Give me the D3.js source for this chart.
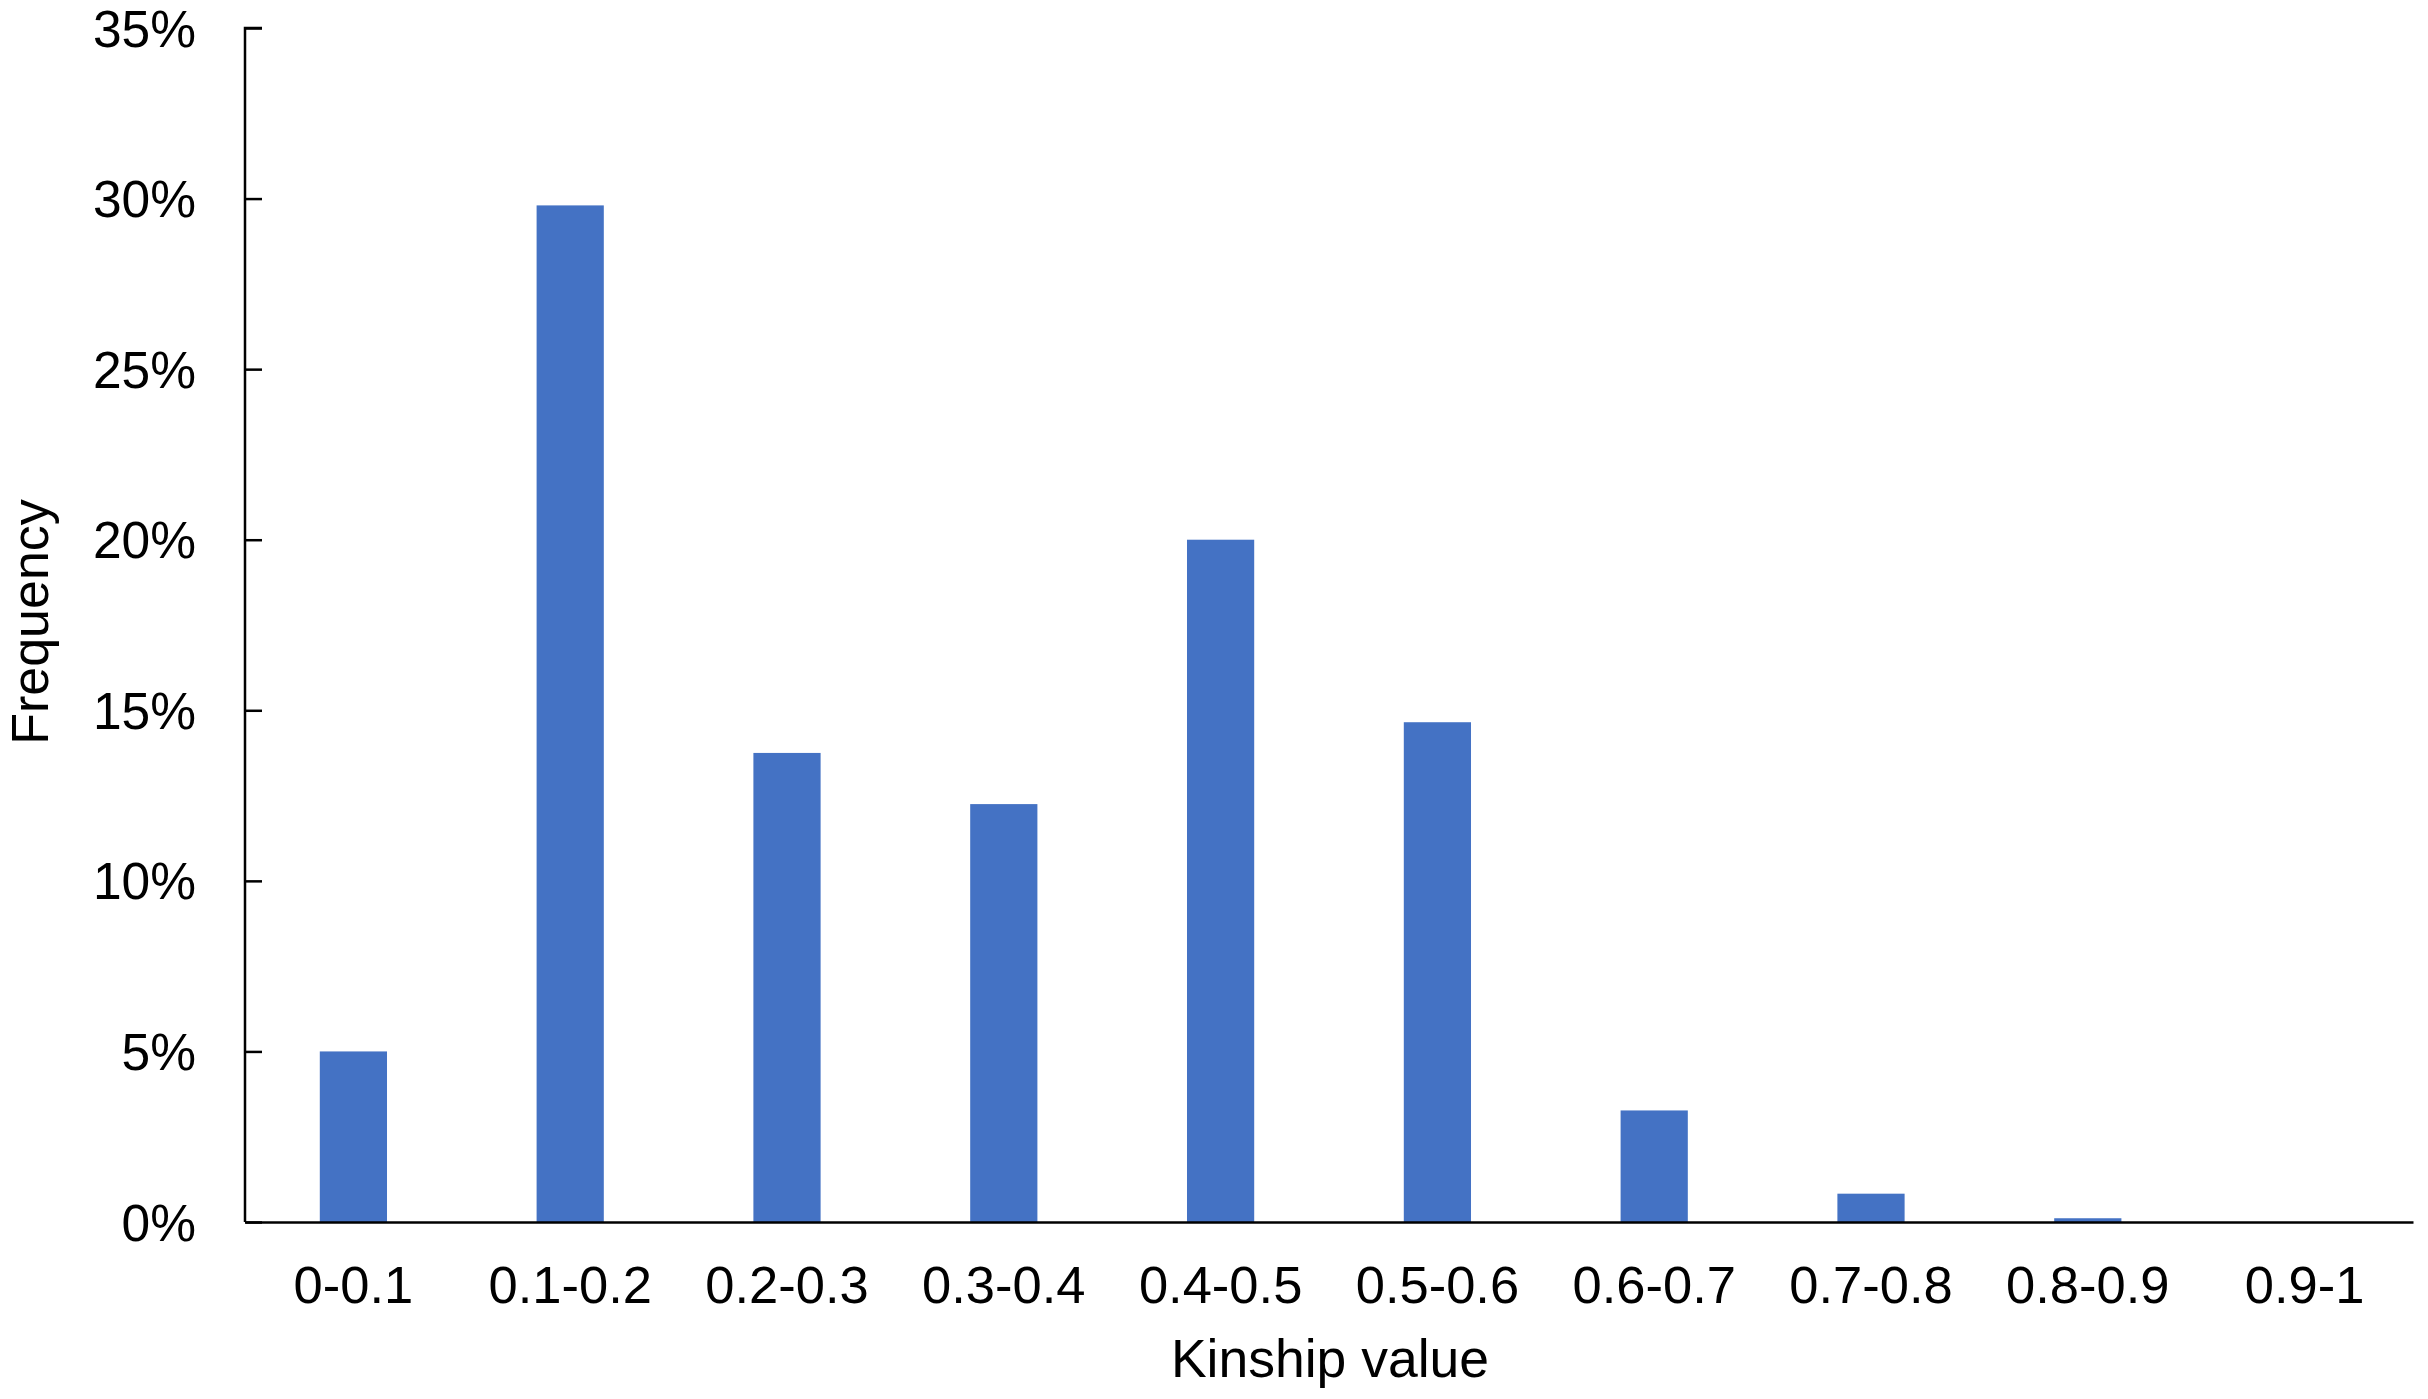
<!DOCTYPE html>
<html>
<head>
<meta charset="utf-8">
<script src="https://cdn.jsdelivr.net/npm/d3@7"></script>
<style>
  html, body { margin: 0; padding: 0; background: #fff; }
  svg { display: block; }
  text { font-family: "Liberation Sans", Arial, sans-serif; fill: #000; }
</style>
</head>
<body>
<svg id="chart" width="2428" height="1399"></svg>
<script>
const categories = ["0-0.1", "0.1-0.2", "0.2-0.3", "0.3-0.4", "0.4-0.5", "0.5-0.6", "0.6-0.7", "0.7-0.8", "0.8-0.9", "0.9-1"];
const frequency = [0.050, 0.298, 0.1375, 0.1225, 0.200, 0.1465, 0.0327, 0.0083, 0.0011, 0];
const yTicks = [0, 0.05, 0.10, 0.15, 0.20, 0.25, 0.30, 0.35];
const xTitle = "Kinship value";
const yTitle = "Frequency";

const W = 2428, H = 1399;
const margin = { left: 245, right: 15, top: 28, bottom: 177 };
const svg = d3.select("#chart");
const innerW = W - margin.left - margin.right;
const innerH = H - margin.top - margin.bottom;
const g = svg.append("g").attr("transform", `translate(${margin.left},${margin.top})`);

const x = d3.scaleBand().domain(categories).range([0, innerW]).paddingInner(0.69).paddingOuter(0.345);
const y = d3.scaleLinear().domain([0, 0.35]).range([innerH, 0]);

// bars
g.selectAll("rect.bar").data(categories).join("rect")
  .attr("class", "bar")
  .attr("x", d => x(d))
  .attr("width", x.bandwidth())
  .attr("y", (d, i) => y(frequency[i]))
  .attr("height", (d, i) => y(0) - y(frequency[i]))
  .attr("fill", "#4472C4");

// y axis (ticks pointing inward)
const yAxis = g.append("g")
  .call(d3.axisRight(y).tickValues(yTicks).tickSize(17).tickFormat(d3.format(".0%")));
yAxis.select(".domain").attr("d", `M0,${innerH}V0H17`).attr("stroke", "#000").attr("stroke-width", 2.5).attr("fill", "none");
yAxis.selectAll(".tick line").attr("stroke", "#000").attr("stroke-width", 2.5);
yAxis.selectAll(".tick text")
  .attr("x", -49).attr("text-anchor", "end").attr("dy", "0.35em")
  .style("font-size", "51.5px");

// x axis
const xAxis = g.append("g").attr("transform", `translate(0,${innerH})`)
  .call(d3.axisBottom(x).tickSize(0).tickPadding(0));
xAxis.select(".domain").attr("stroke", "#000").attr("stroke-width", 2.5);
xAxis.selectAll(".tick text").attr("y", 81).attr("dy", 0).style("font-size", "52.5px");

// titles
svg.append("text")
  .attr("x", margin.left + innerW / 2 + 1).attr("y", 1377)
  .attr("text-anchor", "middle").style("font-size", "53.5px")
  .text(xTitle);
svg.append("text")
  .attr("transform", `translate(48,${margin.top + innerH / 2 - 3}) rotate(-90)`)
  .attr("text-anchor", "middle").style("font-size", "52px")
  .text(yTitle);
</script>
</body>
</html>
